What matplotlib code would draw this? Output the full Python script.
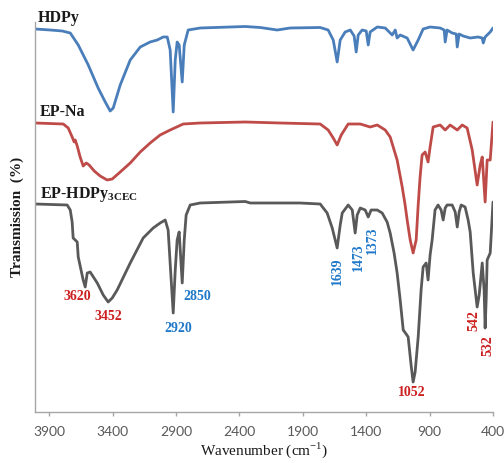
import matplotlib
matplotlib.use("Agg")
import matplotlib.pyplot as plt

# ---------------- data (wavenumber in cm-1, transmission in arbitrary offset units) ----
hdpy_wn = [4010, 3892, 3797, 3734, 3671, 3592, 3514, 3458, 3419, 3395, 3340, 3261, 3182, 3104,
           3048, 3001, 2969, 2946, 2922, 2906, 2891, 2875, 2851, 2835, 2804, 2709, 2354, 2236,
           2102, 2000, 1763, 1700, 1660, 1629, 1605, 1566, 1526, 1495, 1479, 1463, 1432, 1400,
           1384, 1369, 1313, 1250, 1195, 1171, 1156, 1132, 1077, 1030, 990, 951, 896, 817, 785,
           777, 762, 722, 690, 682, 667, 635, 580, 517, 485, 477, 462, 422, 400]
hdpy_t = [383, 382, 381, 379, 367, 347, 324, 310, 301, 304, 327, 352, 365, 370,
          372, 375, 375, 362, 300, 352, 370, 367, 330, 367, 382, 384, 385.5, 384.5,
          382, 384, 384.5, 382, 372, 350, 372, 380, 382, 376, 360, 377, 382, 381,
          367, 380, 385, 384, 377, 382, 374, 377, 374, 362, 372, 383, 385, 384, 382,
          370, 382, 379, 378, 365, 378, 376, 374, 375, 374, 369, 375, 380, 384]

epna_wn = [4010, 3789, 3750, 3719, 3703, 3695, 3679, 3656, 3632, 3608, 3585, 3545, 3498, 3443,
           3403, 3340, 3261, 3182, 3104, 3025, 2946, 2843, 2709, 2354, 2078, 1763, 1700, 1660,
           1629, 1597, 1542, 1447, 1369, 1313, 1250, 1211, 1156, 1116, 1093, 1077, 1053, 1030,
           1006, 990, 975, 959, 935, 912, 896, 872, 817, 777, 738, 682, 643, 604, 564, 525,
           501, 485, 462, 446, 422, 400]
epna_t = [289, 288, 284, 275, 270, 272, 266, 255, 246, 249, 247, 241, 236, 232,
          233, 240, 249, 260, 269, 277, 282, 288, 289, 290, 289, 288, 282, 274,
          267, 277, 288, 288, 285, 287, 282, 275, 252, 225, 207, 192, 172, 159,
          172, 207, 235, 257, 260, 250, 265, 285, 287, 282, 287, 282, 287, 284, 262, 227,
          247, 255, 210, 252, 252, 290]

ephd_wn = [4010, 3758, 3734, 3719, 3711, 3695, 3679, 3671, 3632, 3616, 3600, 3577, 3521, 3474,
           3435, 3403, 3364, 3261, 3159, 3080, 3025, 2985, 2962, 2938, 2922, 2906, 2891, 2875,
           2851, 2835, 2820, 2788, 2709, 2354, 2315, 1921, 1763, 1708, 1668, 1629, 1605, 1589,
           1542, 1510, 1487, 1471, 1447, 1408, 1384, 1361, 1313, 1274, 1235, 1211, 1180, 1156,
           1132, 1108, 1085, 1069, 1046, 1030, 1014, 990, 967, 951, 927, 912, 896, 880, 857,
           833, 809, 793, 777, 762, 722, 698, 682, 667, 651, 620, 596, 580, 556, 525, 509,
           485, 470, 462, 454, 446, 422, 400]
ephd_t = [208, 207, 202, 190, 174, 172, 170, 155, 132, 125, 139, 140, 129, 117,
          110, 114, 122, 149, 174, 184, 189, 192, 182, 132, 99, 142, 172, 180,
          129, 172, 197, 207, 209, 210.5, 209, 209, 208, 199, 184, 164, 187, 199,
          207, 202, 179, 197, 204, 202, 195, 202, 202, 199, 190, 179, 159, 139,
          112, 82, 78, 75, 47, 30, 40, 75, 122, 145, 149, 132, 157, 172, 202,
          207, 202, 192, 204, 207, 207, 200, 185, 200, 207, 205, 192, 180, 139, 105, 117,
          149, 122, 84, 112, 152, 159, 210]

series_names = ["HDPy", "EP-Na", "EP-HDPy$_{\\mathbf{3CEC}}$"]
peak_labels = ["3620", "3452", "2920", "2850", "1639", "1473", "1373", "1052", "542", "532"]
x_ticks = [3900, 3400, 2900, 2400, 1900, 1400, 900, 400]

# ---------------- styling ----------------
plt.rcParams['mathtext.fontset'] = 'custom'
plt.rcParams['mathtext.rm'] = 'Liberation Serif'
plt.rcParams['mathtext.bf'] = 'Liberation Serif:bold'

c_blue, c_red, c_gray = "#4a7ebb", "#be4b48", "#595959"
lab_red, lab_blue = "#cc1f1f", "#1f78c8"
serif = "Liberation Serif"

fig = plt.figure(figsize=(5.04, 4.63), dpi=100)
ax = fig.add_axes([35 / 504, 51 / 463, 458 / 504, 390 / 463])

lkw = dict(lw=2.0, solid_joinstyle='round', solid_capstyle='round')
ax.plot(hdpy_wn, hdpy_t, color=c_blue, **lkw)
ax.plot(epna_wn, epna_t, color=c_red, **lkw)
ax.plot(ephd_wn, ephd_t, color=c_gray, **lkw)

ax.set_xlim(4012, 400)
ax.set_ylim(0, 390)

# series names
name_pos = [(3987, 394), (3971, 300), (3971, 218)]
for name, (x, y) in zip(series_names, name_pos):
    ax.text(x, y, name, family=serif, weight='bold', fontsize=11.5, color="#1a1a1a",
            ha='left', va='center', clip_on=False)

# peak labels
peak_pos = [(3679, 115), (3435, 96), (2883, 84), (2733, 115), (1629, 141), (1463, 155),
            (1353, 172), (1037, 19), (549, 91), (438, 66)]
peak_col = [lab_red, lab_red, lab_blue, lab_blue, lab_blue, lab_blue, lab_blue,
            lab_red, lab_red, lab_red]
peak_rot = [0, 0, 0, 0, 90, 90, 90, 0, 90, 90]
for t, (x, y), c, r in zip(peak_labels, peak_pos, peak_col, peak_rot):
    ax.text(x, y, t, family=serif, weight='bold', fontsize=10, color=c, rotation=r,
            ha='center', va='center')

# axes styling
for s in ['top', 'right']:
    ax.spines[s].set_visible(False)
for s in ['left', 'bottom']:
    ax.spines[s].set_color("#a6a6a6")
    ax.spines[s].set_linewidth(1.0)
ax.set_yticks([])
ax.set_xticks(x_ticks)
ax.set_xticklabels([str(v) for v in x_ticks], family="Lato", fontsize=10, color=c_gray)
ax.tick_params(axis='x', direction='out', length=3, width=1.0, color="#a6a6a6", pad=7)

ax.set_xlabel("Wavenumber (cm$^{\\mathregular{-1}}$)", family=serif, fontsize=11,
              color="#1a1a1a", labelpad=2)
ax.set_ylabel("Transmission  (%)", family=serif, weight='bold', fontsize=11,
              color="#1a1a1a", labelpad=8)

fig.savefig("out.png", dpi=100)
